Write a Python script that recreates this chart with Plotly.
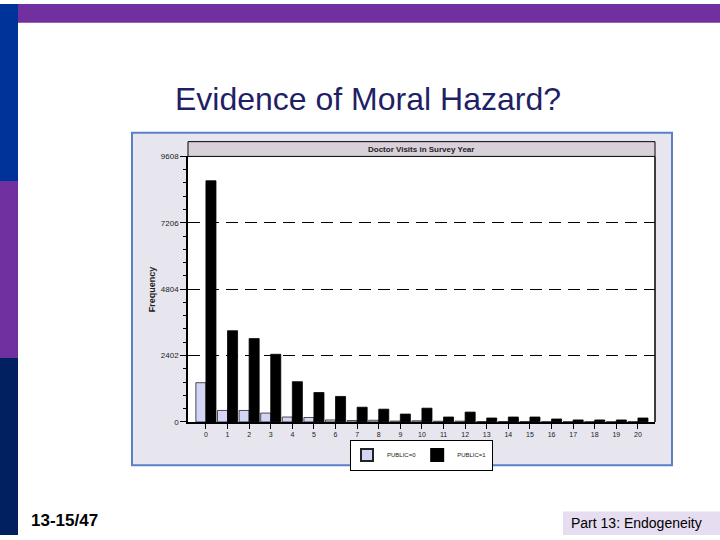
import plotly.graph_objects as go

visits = list(range(21))
tick_labels = [str(v) for v in visits]
public0 = [1419, 415, 415, 320, 177, 160, 71, 50, 60, 30, 40, 25, 28, 12, 14, 12, 8, 6, 6, 5, 10]
public1 = [8728, 3300, 3016, 2448, 1455, 1064, 922, 532, 461, 284, 497, 177, 355, 142, 177, 177, 106, 71, 71, 71, 142]
y_ticks = [0, 2402, 4804, 7206, 9608]
y_tick_labels = ["0", "2402", "4804", "7206", "9608"]
series_names = ["PUBLIC=0", "PUBLIC=1"]

W, H = 720, 540
def px(x):
    return x / W
def py(y):
    return 1 - y / H

FONT = "Arial, Liberation Sans, sans-serif"

fig = go.Figure()
fig.add_trace(go.Bar(x=visits, y=public0, name=series_names[0],
                     marker=dict(color="#D2D5F5", line=dict(color="#222", width=0.8))))
fig.add_trace(go.Bar(x=visits, y=public1, name=series_names[1],
                     marker=dict(color="#000000", line=dict(color="#000", width=0.8))))

shapes = []
shapes.append(dict(type="rect", xref="paper", yref="paper", x0=px(0), x1=px(18), y0=py(0), y1=py(180),
                   fillcolor="#003399", line=dict(width=0), layer="below"))
shapes.append(dict(type="rect", xref="paper", yref="paper", x0=px(0), x1=px(18), y0=py(180), y1=py(360),
                   fillcolor="#7030A0", line=dict(width=0), layer="below"))
shapes.append(dict(type="rect", xref="paper", yref="paper", x0=px(0), x1=px(18), y0=py(360), y1=py(540),
                   fillcolor="#002060", line=dict(width=0), layer="below"))
shapes.append(dict(type="rect", xref="paper", yref="paper", x0=px(18), x1=px(720), y0=py(0), y1=py(19),
                   fillcolor="#7030A0", line=dict(width=0), layer="below"))
shapes.append(dict(type="rect", xref="paper", yref="paper", x0=px(563), x1=px(720), y0=py(516), y1=py(540),
                   fillcolor="#E6DDF0", line=dict(width=0), layer="below"))
shapes.append(dict(type="rect", xref="paper", yref="paper", x0=px(132), x1=px(672), y0=py(131), y1=py(469),
                   fillcolor="#E7E5EE", line=dict(color="#5A80C8", width=2), layer="below"))
shapes.append(dict(type="rect", xref="paper", yref="paper", x0=px(188), x1=px(655), y0=py(155), y1=py(425),
                   fillcolor="#FFFFFF", line=dict(width=0), layer="below"))
shapes.append(dict(type="rect", xref="paper", yref="paper", x0=px(188), x1=px(655), y0=py(140), y1=py(155),
                   fillcolor="#D9D1D9", line=dict(color="#000", width=1), layer="below"))
shapes.append(dict(type="line", xref="paper", yref="paper", x0=px(655), x1=px(655), y0=py(155), y1=py(425),
                   line=dict(color="#000", width=1.5), layer="above"))

annotations = [
    dict(text="Evidence of Moral Hazard?", xref="paper", yref="paper", x=px(368), y=py(97),
         showarrow=False, font=dict(family=FONT, size=32, color="#1F1F66"), xanchor="center", yanchor="middle"),
    dict(text="<b>Doctor Visits in Survey Year</b>", xref="paper", yref="paper", x=px(421), y=py(148),
         showarrow=False, font=dict(family=FONT, size=8, color="#222"), xanchor="center", yanchor="middle"),
    dict(text="<b>Frequency</b>", xref="paper", yref="paper", x=px(152), y=py(290), textangle=-90,
         showarrow=False, font=dict(family=FONT, size=9, color="#222"), xanchor="center", yanchor="middle"),
    dict(text="<b>13-15/47</b>", xref="paper", yref="paper", x=px(29), y=py(525),
         showarrow=False, font=dict(family=FONT, size=17, color="#000"), xanchor="left", yanchor="middle"),
    dict(text="Part 13: Endogeneity", xref="paper", yref="paper", x=px(636), y=py(528),
         showarrow=False, font=dict(family=FONT, size=14, color="#000"), xanchor="center", yanchor="middle"),
]

fig.update_layout(
    width=W, height=H,
    margin=dict(l=0, r=0, t=0, b=0),
    paper_bgcolor="#FFFFFF", plot_bgcolor="rgba(0,0,0,0)",
    barmode="group", bargap=0.07, bargroupgap=0,
    shapes=shapes, annotations=annotations,
    font=dict(family=FONT),
    showlegend=True,
    legend=dict(orientation="h", x=px(350), y=py(443), xanchor="left", yanchor="top",
                bgcolor="#FFFFFF", bordercolor="#000", borderwidth=1,
                font=dict(family=FONT, size=6, color="#222"),
                itemwidth=30, tracegroupgap=0, indentation=-4, itemsizing="constant"),
    xaxis=dict(domain=[px(188), px(655)], range=[-0.83, 20.79],
               tickmode="array", tickvals=visits, ticktext=tick_labels,
               ticks="outside", ticklen=5, tickcolor="#000",
               tickfont=dict(family=FONT, size=7, color="#222"),
               showline=True, linecolor="#000", linewidth=1.5, showgrid=False, zeroline=False),
    yaxis=dict(domain=[py(425), py(155)], range=[0, 9608],
               tickmode="array", tickvals=y_ticks, ticktext=y_tick_labels,
               ticks="outside", ticklen=6, tickcolor="#000",
               tickfont=dict(family=FONT, size=8, color="#222"),
               minor=dict(ticks="outside", ticklen=3, tickcolor="#000", dtick=2402/5, showgrid=False),
               showline=True, linecolor="#000", linewidth=1.5,
               showgrid=True, gridcolor="#000", gridwidth=1, griddash="12px,7px", zeroline=False),
)

fig.write_html("out.html", config={"displayModeBar": False},
               post_script="document.body.style.margin='0';document.body.style.padding='0';document.body.style.overflow='hidden';")
